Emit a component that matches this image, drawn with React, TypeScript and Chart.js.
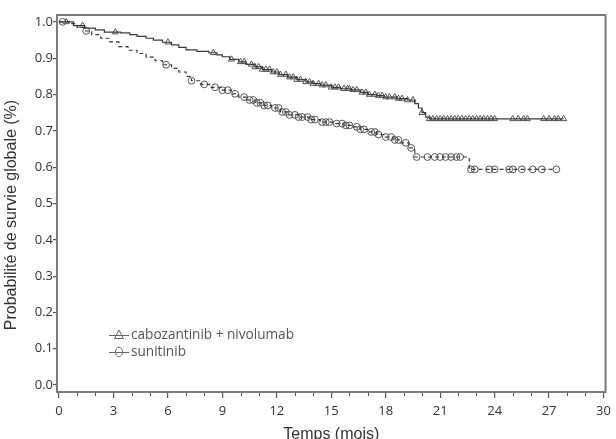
import React, { useEffect, useRef } from "react";
import { Chart, registerables } from "chart.js";

Chart.register(...registerables);

// ---- Data ----
const xTickValues = [0, 3, 6, 9, 12, 15, 18, 21, 24, 27, 30];
const yTickValues = [0, 0.1, 0.2, 0.3, 0.4, 0.5, 0.6, 0.7, 0.8, 0.9, 1.0];

const seriesLabels = ["cabozantinib + nivolumab", "sunitinib"];
const xTitle = "Temps (mois)";
const yTitle = "Probabilité de survie globale (%)";

// cabozantinib + nivolumab: step events (time in months, survival after event)
const caboTimes = [0, 0.8, 1.4, 2.0, 2.5, 3.4, 3.9, 4.3, 4.8, 5.2, 5.7, 6.2, 6.6, 7.0, 7.6, 8.25, 8.7, 9.0, 9.4, 9.9, 10.3, 10.8, 11.2, 11.7, 12.1, 12.6, 13.1, 13.6, 14.0, 14.4, 15.0, 15.5, 16.1, 16.6, 17.0, 17.5, 17.9, 18.6, 19.2, 19.6, 19.8, 20.0, 20.2, 20.4];
const caboSurv = [1.0, 0.99, 0.983, 0.978, 0.972, 0.97, 0.965, 0.96, 0.955, 0.95, 0.944, 0.937, 0.93, 0.923, 0.919, 0.915, 0.909, 0.904, 0.897, 0.89, 0.883, 0.876, 0.869, 0.862, 0.855, 0.848, 0.841, 0.835, 0.83, 0.826, 0.82, 0.816, 0.813, 0.806, 0.8, 0.797, 0.793, 0.789, 0.785, 0.775, 0.763, 0.75, 0.738, 0.733];
const caboEnd = 27.8;
const caboCensor = [0.4, 1.3, 3.1, 6.0, 8.5, 9.5, 10.0, 10.2, 10.6, 10.8, 11.0, 11.2, 11.4, 11.6, 11.8, 12.0, 12.2, 12.5, 12.7, 12.9, 13.1, 13.3, 13.6, 13.8, 14.0, 14.3, 14.5, 14.7, 15.0, 15.2, 15.4, 15.7, 15.9, 16.0, 16.2, 16.4, 16.7, 16.9, 17.1, 17.4, 17.6, 17.8, 18.0, 18.2, 18.5, 18.7, 18.9, 19.2, 19.5, 20.0, 20.4, 20.6, 20.8, 21.0, 21.2, 21.4, 21.6, 21.8, 22.0, 22.2, 22.4, 22.6, 22.8, 23.0, 23.2, 23.4, 23.6, 23.8, 24.0, 25.0, 25.3, 25.6, 25.8, 26.7, 27.0, 27.3, 27.5, 27.8];

// sunitinib
const suniTimes = [0, 0.6, 1.0, 1.4, 1.8, 2.3, 2.8, 3.3, 3.8, 4.3, 4.8, 5.3, 5.7, 6.2, 6.6, 7.0, 7.3, 7.8, 8.3, 9.0, 9.5, 9.9, 10.4, 10.8, 11.3, 11.7, 12.2, 12.6, 13.2, 13.8, 14.4, 15.2, 15.7, 16.1, 16.6, 17.0, 17.5, 17.9, 18.4, 18.8, 19.3, 19.6, 22.6];
const suniSurv = [1.0, 0.995, 0.985, 0.975, 0.965, 0.955, 0.945, 0.932, 0.922, 0.913, 0.903, 0.893, 0.882, 0.872, 0.862, 0.85, 0.838, 0.828, 0.82, 0.812, 0.802, 0.793, 0.785, 0.777, 0.77, 0.763, 0.752, 0.744, 0.738, 0.731, 0.724, 0.72, 0.715, 0.711, 0.704, 0.697, 0.69, 0.683, 0.675, 0.667, 0.653, 0.628, 0.594];
const suniEnd = 27.4;
const suniCensor = [0.2, 1.5, 5.9, 7.3, 8.0, 8.6, 9.0, 9.3, 9.7, 10.2, 10.5, 10.7, 10.9, 11.1, 11.3, 11.5, 11.9, 12.1, 12.3, 12.5, 12.7, 13.0, 13.2, 13.4, 13.7, 13.9, 14.1, 14.5, 14.7, 14.9, 15.3, 15.6, 15.8, 16.0, 16.4, 16.6, 16.8, 17.2, 17.4, 17.6, 18.0, 18.3, 18.5, 18.7, 19.1, 19.4, 19.7, 20.3, 20.7, 21.0, 21.3, 21.6, 21.9, 22.1, 22.7, 22.9, 23.7, 24.0, 24.8, 25.0, 25.5, 26.1, 26.6, 27.4];

// ---- helpers ----
function stepValue(times: number[], surv: number[], t: number) {
  let v = surv[0];
  for (let i = 0; i < times.length; i++) if (times[i] <= t) v = surv[i];
  return v;
}
function stepPoints(times: number[], surv: number[], end: number) {
  const pts = times.map((t, i) => ({ x: t, y: surv[i] }));
  pts.push({ x: end, y: surv[surv.length - 1] });
  return pts;
}
function censorPoints(times: number[], surv: number[], censor: number[]) {
  return censor.map((t) => ({ x: t, y: stepValue(times, surv, t) }));
}

const AXIS_COLOR = "#7a7a7a";
const TICK_COLOR = "#555";
const TEXT_COLOR = "#333";
const LINE_COLOR = "#3a3a3a";
const MARK_COLOR = "#555";

const framePlugin = {
  id: "frame",
  afterDraw(chart: any) {
    const { ctx, chartArea: a, scales } = chart;
    const xs = scales.x;
    ctx.save();
    // frame
    ctx.strokeStyle = AXIS_COLOR;
    ctx.lineWidth = 2;
    ctx.strokeRect(a.left, a.top, a.right - a.left, a.bottom - a.top);
    // minor x ticks (each month)
    ctx.strokeStyle = TICK_COLOR;
    ctx.lineWidth = 1;
    for (let m = 0; m <= 30; m++) {
      if (m % 3 === 0) continue;
      const px = Math.round(xs.getPixelForValue(m)) + 0.5;
      ctx.beginPath();
      ctx.moveTo(px, a.bottom + 1);
      ctx.lineTo(px, a.bottom + 4);
      ctx.stroke();
    }
    // legend
    const rows = [
      { y: 335, style: "triangle", text: seriesLabels[0] },
      { y: 352, style: "circle", text: seriesLabels[1] },
    ];
    ctx.font = '13.6px "Open Sans"';
    ctx.textBaseline = "middle";
    ctx.textAlign = "left";
    rows.forEach((r) => {
      ctx.strokeStyle = "#666";
      ctx.lineWidth = 1;
      ctx.beginPath();
      ctx.moveTo(109, r.y + 0.5);
      ctx.lineTo(129, r.y + 0.5);
      ctx.stroke();
      ctx.beginPath();
      if (r.style === "triangle") {
        ctx.moveTo(119, r.y - 5);
        ctx.lineTo(123.5, r.y + 3.5);
        ctx.lineTo(114.5, r.y + 3.5);
        ctx.closePath();
      } else {
        ctx.ellipse(119, r.y, 3.5, 4.8, 0, 0, Math.PI * 2);
      }
      ctx.stroke();
      ctx.fillStyle = "#555";
      ctx.fillText(r.text, 131, r.y);
    });
    // axis titles
    ctx.fillStyle = TEXT_COLOR;
    ctx.font = '16px "Liberation Sans"';
    ctx.textAlign = "center";
    ctx.textBaseline = "alphabetic";
    ctx.fillText(xTitle, (a.left + a.right) / 2, 439);
    ctx.translate(16, 215);
    ctx.rotate(-Math.PI / 2);
    ctx.fillText(yTitle, 0, 0);
    ctx.restore();
  },
};

export default function App() {
  const canvasRef = useRef<HTMLCanvasElement | null>(null);

  useEffect(() => {
    document.body.style.margin = "0";
    const canvas = canvasRef.current;
    if (!canvas) return;
    const chart = new Chart(canvas, {
      type: "line",
      data: {
        datasets: [
          {
            label: seriesLabels[0],
            data: stepPoints(caboTimes, caboSurv, caboEnd),
            stepped: "before",
            borderColor: LINE_COLOR,
            borderWidth: 1.2,
            pointRadius: 0,
            fill: false,
          },
          {
            label: seriesLabels[1],
            data: stepPoints(suniTimes, suniSurv, suniEnd),
            stepped: "before",
            borderColor: LINE_COLOR,
            borderWidth: 1.2,
            borderDash: [4, 3],
            pointRadius: 0,
            fill: false,
          },
          {
            label: seriesLabels[0] + " censure",
            data: censorPoints(caboTimes, caboSurv, caboCensor),
            showLine: false,
            pointStyle: "triangle",
            pointRadius: 3.5,
            pointBorderWidth: 1,
            pointBorderColor: MARK_COLOR,
            pointBackgroundColor: "rgba(255,255,255,0)",
          },
          {
            label: seriesLabels[1] + " censure",
            data: censorPoints(suniTimes, suniSurv, suniCensor),
            showLine: false,
            pointStyle: "circle",
            pointRadius: 3.4,
            pointBorderWidth: 1,
            pointBorderColor: MARK_COLOR,
            pointBackgroundColor: "rgba(255,255,255,0)",
          },
        ],
      },
      options: {
        animation: false,
        responsive: false,
        devicePixelRatio: 1,
        layout: { padding: { top: 15, right: 6, left: 0, bottom: 0 } },
        plugins: { legend: { display: false }, tooltip: { enabled: false } },
        scales: {
          x: {
            type: "linear",
            min: -0.11,
            max: 30.11,
            afterBuildTicks: (s: any) => {
              s.ticks = xTickValues.map((v) => ({ value: v }));
            },
            afterFit: (s: any) => {
              s.height = 47;
            },
            ticks: {
              color: TEXT_COLOR,
              font: { family: "Open Sans", size: 13 },
              padding: 5,
              maxRotation: 0,
              autoSkip: false,
              callback: (v: any) => String(v),
            },
            grid: { display: true, drawOnChartArea: false, drawTicks: true, tickLength: 6, color: TICK_COLOR, lineWidth: 1.2 },
            border: { display: false },
          },
          y: {
            type: "linear",
            min: -0.019,
            max: 1.019,
            afterBuildTicks: (s: any) => {
              s.ticks = yTickValues.map((v) => ({ value: v }));
            },
            afterFit: (s: any) => {
              s.width = 57;
            },
            ticks: {
              color: TEXT_COLOR,
              font: { family: "Open Sans", size: 13 },
              padding: 0,
              autoSkip: false,
              callback: (v: any) => Number(v).toFixed(1),
            },
            grid: { display: true, drawOnChartArea: false, drawTicks: true, tickLength: 4, color: TICK_COLOR, lineWidth: 1.2 },
            border: { display: false },
          },
        },
      },
      plugins: [framePlugin],
    } as any);
    return () => chart.destroy();
  }, []);

  return (
    <div style={{ width: 616, height: 439, background: "#fff" }}>
      <canvas ref={canvasRef} width={616} height={439} style={{ display: "block" }} />
    </div>
  );
}
